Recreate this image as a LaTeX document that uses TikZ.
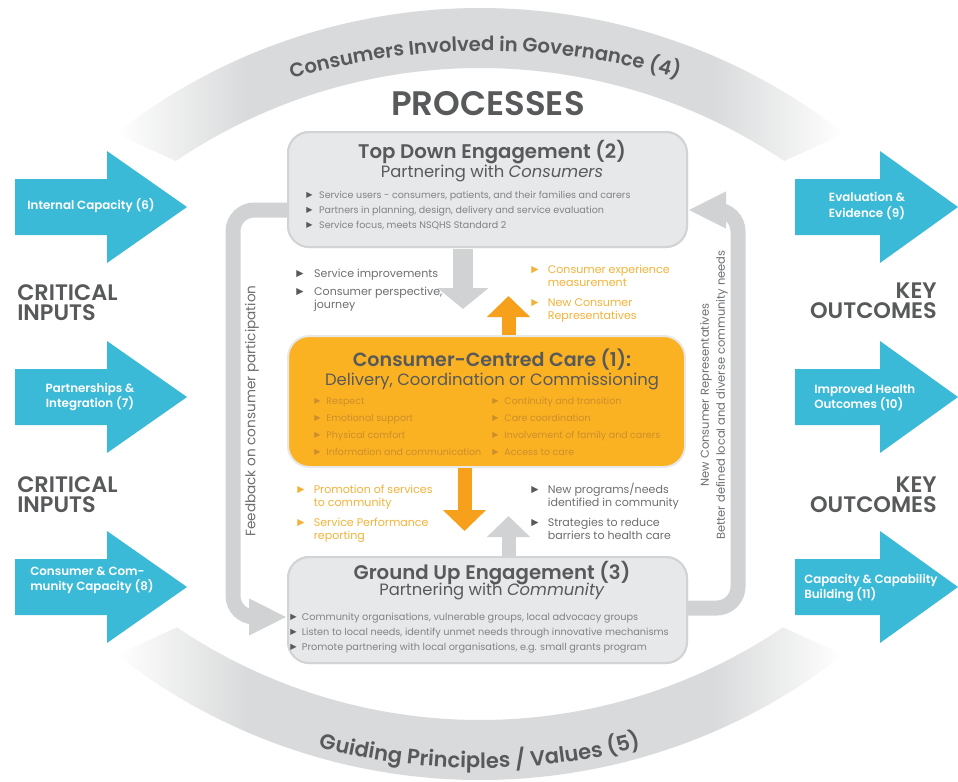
\documentclass[tikz,border=0pt]{standalone}
\usepackage{fontspec}
\setmainfont{Poppins}[BoldFont={Poppins SemiBold}]
\newfontfamily\symfont{DejaVu Sans}
\usetikzlibrary{arrows.meta,calc,decorations.text}

\definecolor{cblue}{RGB}{59,186,215}
\definecolor{band}{RGB}{217,218,219}
\definecolor{boxfill}{RGB}{231,232,233}
\definecolor{boxline}{RGB}{210,211,213}
\definecolor{loopgray}{RGB}{208,210,212}
\definecolor{corange}{RGB}{250,178,35}
\definecolor{oarrowc}{RGB}{246,160,28}
\definecolor{dtext}{RGB}{88,89,91}
\definecolor{btext}{RGB}{109,110,113}
\definecolor{ltext}{RGB}{128,130,133}
\definecolor{otext}{RGB}{242,178,58}
\definecolor{intext}{RGB}{204,142,44}

\pgfdeclarehorizontalshading{bandfade}{100bp}{color(0bp)=(white); color(25bp)=(white); color(34bp)=(band); color(66bp)=(band); color(75bp)=(white); color(100bp)=(white)}

\newcommand\tri[1][.]{{\color{#1}\symfont\raisebox{0.05em}{\scalebox{0.85}{\char"25B6}}}}

\tikzset{
  gbox/.style={draw=boxline, fill=boxfill, line width=1.5pt, rounded corners=16pt, inner sep=0},
  obox/.style={draw=boxfill, fill=corange, line width=1.5pt, rounded corners=16pt, inner sep=0},
  loopband/.style={draw=loopgray, line width=11.25pt, rounded corners=16pt, -{Triangle[width=25.5pt,length=28.5pt]}},
  garrow/.style={draw=loopgray, line width=15pt, -{Triangle[width=37.5pt,length=15.75pt]}},
  garrowb/.style={draw=loopgray, line width=10.5pt, -{Triangle[width=31.5pt,length=15.75pt]}},
  oarrow/.style={draw=oarrowc, line width=10.5pt, -{Triangle[width=31.5pt,length=15.75pt]}},
  arrowtext/.style={text=white, inner sep=0, font={\bfseries\fontsize{8.9}{11.5}\selectfont}},
  biglabel/.style={text=dtext, inner sep=0, font={\bfseries\fontsize{16.8}{12.75}\selectfont}},
  boxtitle/.style={text=dtext, inner sep=0, font={\bfseries\fontsize{14.8}{16}\selectfont}},
  boxsub/.style={text=dtext, inner sep=0, font={\fontsize{12.3}{14}\selectfont}},
  boxlist/.style={text=ltext, inner sep=0, font={\fontsize{7.15}{11.25}\selectfont}},
  grouplist/.style={inner sep=0, font={\fontsize{8.3}{10}\selectfont}},
}

\begin{document}
\begin{tikzpicture}[x=0.75pt,y=-0.75pt]
\useasboundingbox (0,0) rectangle (958,782);

% outer bands
\shade[shading=bandfade] ($(480,600)+(232:592)$) arc[start angle=232,end angle=308,radius=592]
   -- ($(480,612)+(304:544)$) arc[start angle=304,end angle=236,radius=544] -- cycle;
\shade[shading=bandfade] ($(480,190)+(128:590)$) arc[start angle=128,end angle=52,radius=590]
   -- ($(480,178)+(56:542)$) arc[start angle=56,end angle=124,radius=542] -- cycle;

\path[decorate,decoration={text along path,text align=center,text color=dtext,
   text={|\bfseries\fontsize{14.7}{14.7}\selectfont|Consumers Involved in Governance (4)}}]
   ($(485,745)+(250:694)$) arc[start angle=250,end angle=290,radius=694];
\path[decorate,decoration={text along path,text align=center,text color=dtext,
   text={|\bfseries\fontsize{15.8}{15.8}\selectfont|Guiding Principles / Values (5)}}]
   ($(480,134)+(108:634)$) arc[start angle=108,end angle=72,radius=634];

\node[anchor=base, text=dtext, inner sep=0, font={\bfseries\fontsize{25.5}{25.5}\selectfont}] (proc) at (488,115) {PROCESSES};

% blue arrows
\foreach \yc in {207,397,587} {
  \fill[cblue] (15,\yc-28) -- (107,\yc-28) -- (107,\yc-56) -- (187,\yc) -- (107,\yc+56) -- (107,\yc+28) -- (15,\yc+28) -- cycle;
  \fill[cblue] (795,\yc-28) -- (880,\yc-28) -- (880,\yc-56) -- (958,\yc) -- (880,\yc+56) -- (880,\yc+28) -- (795,\yc+28) -- cycle;
}
\node[arrowtext] (in6) at (91,206) {Internal Capacity (6)};
\node[arrowtext, align=center] (in7) at (90,397) {Partnerships \&\\Integration (7)};
\node[arrowtext, align=left, anchor=west] (in8) at (30,580) {Consumer \& Com-\\munity Capacity (8)};
\node[arrowtext, align=center] (out9) at (867,206) {Evaluation \&\\Evidence (9)};
\node[arrowtext, align=left, anchor=west] (out10) at (814,398) {Improved Health\\Outcomes (10)};
\node[arrowtext, align=left, anchor=west] (out11) at (804,588) {Capacity \& Capability\\Building (11)};

% side labels
\node[biglabel, anchor=base west] (ci1) at (17,300) {\begin{tabular}[t]{@{}l@{}}CRITICAL\\INPUTS\end{tabular}};
\node[biglabel, anchor=base west] (ci2) at (17,492) {\begin{tabular}[t]{@{}l@{}}CRITICAL\\INPUTS\end{tabular}};
\node[biglabel, anchor=base east] (ko1) at (937,298) {\begin{tabular}[t]{@{}r@{}}KEY\\OUTCOMES\end{tabular}};
\node[biglabel, anchor=base east] (ko2) at (937,492) {\begin{tabular}[t]{@{}r@{}}KEY\\OUTCOMES\end{tabular}};

% boxes (shapes only)
\node[gbox, minimum width=399*0.75pt, minimum height=115*0.75pt] (top) at (487.5,189.5) {};
\node[gbox, minimum width=399*0.75pt, minimum height=106*0.75pt] (bot) at (487.5,610) {};

% loops
\draw[loopband] ($(top.west)+(2,20.5)$) -- (233,210) -- (233,617) -- ($(bot.west)+(0,7)$);
\draw[loopband] ($(bot.east)+(-2,-2)$) -- (738,608) -- (738,210) -- ($(top.east)+(0,20.5)$);

% redraw boxes on top of loops
\node[gbox, minimum width=399*0.75pt, minimum height=115*0.75pt] at (487.5,189.5) {};
\node[gbox, minimum width=399*0.75pt, minimum height=106*0.75pt] at (487.5,610) {};
\node[obox, minimum width=397*0.75pt, minimum height=131*0.75pt] (mid) at (486.5,401.5) {};

% vertical arrows
\draw[garrow] ($(top.south)+(-24.5,0.5)$) -- ($(top.south)+(-24.5,61)$);
\draw[oarrow] ($(mid.north)+(22,0)$) -- ($(mid.north)+(22,-39)$);
\draw[oarrow] ($(mid.south)+(-22,0)$) -- ($(mid.south)+(-22,63)$);
\draw[garrowb] ($(bot.north)+(21,-0.5)$) -- ($(bot.north)+(21,-40)$);

% rotated labels
\node[rotate=90, text=btext, inner sep=0, font={\fontsize{10.2}{12}\selectfont}] (fb) at (252,411) {Feedback on consumer participation};
\node[rotate=90, text=btext, inner sep=0, align=center, font={\fontsize{8.6}{12}\selectfont}] (nc) at (714,395) {New Consumer Representatives\\Better defined local and diverse community needs};

% top box text
\node[boxtitle, anchor=base] (toptitle) at (492,158) {Top Down Engagement (2)};
\node[boxsub, anchor=base] (topsub) at (492,177) {Partnering with \textit{Consumers}};
\node[boxlist, anchor=base west] (toplist) at (306,198) {\begin{tabular}[t]{@{}l@{\hspace{5pt}}l@{}}
\tri[dtext] & Service users - consumers, patients, and their families and carers\\
\tri[dtext] & Partners in planning, design, delivery and service evaluation\\
\tri[dtext] & Service focus, meets NSQHS Standard 2\end{tabular}};

% middle box text
\node[boxtitle, anchor=base, font={\bfseries\fontsize{14.3}{16}\selectfont}] (midtitle) at (492,366) {Consumer-Centred Care (1):};
\node[boxsub, anchor=base] (midsub) at (492,385) {Delivery, Coordination or Commissioning};
\node[boxlist, text=intext, anchor=base west, font={\fontsize{7.1}{12.75}\selectfont}] (midl) at (314,404) {\begin{tabular}[t]{@{}l@{\hspace{4.5pt}}l@{}}
\tri & Respect\\ \tri & Emotional support\\ \tri & Physical comfort\\ \tri & Information and communication\end{tabular}};
\node[boxlist, text=intext, anchor=base west, font={\fontsize{7.1}{12.75}\selectfont}] (midr) at (492,404) {\begin{tabular}[t]{@{}l@{\hspace{4.5pt}}l@{}}
\tri & Continuity and transition\\ \tri & Care coordination\\ \tri & Involvement of family and carers\\ \tri & Access to care\end{tabular}};

% bottom box text
\node[boxtitle, anchor=base] (bottitle) at (492,579) {Ground Up Engagement (3)};
\node[boxsub, anchor=base] (botsub) at (492,595) {Partnering with \textit{Community}};
\node[boxlist, anchor=base west, font={\fontsize{7.3}{11.25}\selectfont}] (botlist) at (290,620) {\begin{tabular}[t]{@{}l@{\hspace{4pt}}l@{}}
\tri[dtext] & Community organisations, vulnerable groups, local advocacy groups\\
\tri[dtext] & Listen to local needs, identify unmet needs through innovative mechanisms\\
\tri[dtext] & Promote partnering with local organisations, e.g. small grants program\end{tabular}};

% groups between boxes
\node[grouplist, text=btext, anchor=base west] (g1) at (296,277) {\begin{tabular}[t]{@{}l@{\hspace{8pt}}l@{}}
\tri[dtext] & Service improvements\\[3.5pt]
\tri[dtext] & Consumer perspective,\\ & journey\end{tabular}};
\node[grouplist, text=otext, anchor=base west] (g2) at (531,273) {\begin{tabular}[t]{@{}l@{\hspace{7pt}}l@{}}
\tri & Consumer experience\\ & measurement\\[5pt]
\tri & New Consumer\\ & Representatives\end{tabular}};
\node[grouplist, text=otext, anchor=base west] (g3) at (297,493) {\begin{tabular}[t]{@{}l@{\hspace{7pt}}l@{}}
\tri & Promotion of services\\ & to community\\[5pt]
\tri & Service Performance\\ & reporting\end{tabular}};
\node[grouplist, text=btext, anchor=base west] (g4) at (531,493) {\begin{tabular}[t]{@{}l@{\hspace{7pt}}l@{}}
\tri[dtext] & New programs/needs\\ & identified in community\\[5pt]
\tri[dtext] & Strategies to reduce\\ & barriers to health care\end{tabular}};
\end{tikzpicture}
\end{document}
